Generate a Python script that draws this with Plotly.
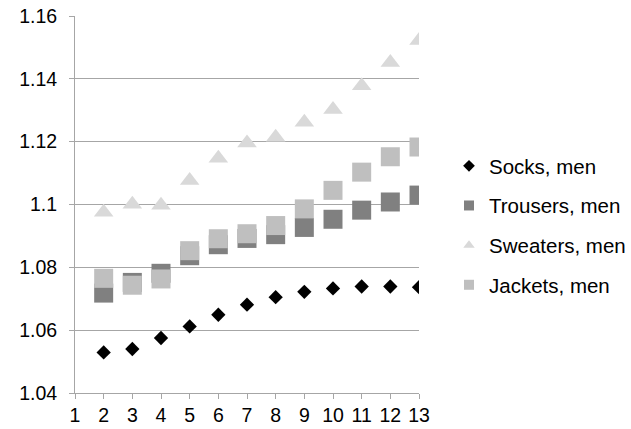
import plotly.graph_objects as go

periods = [2, 3, 4, 5, 6, 7, 8, 9, 10, 11, 12, 13]
socks = [1.0529, 1.0540, 1.0575, 1.0612, 1.0649, 1.0681, 1.0705, 1.0722, 1.0733, 1.0739, 1.0739, 1.0737]
trousers = [1.0718, 1.0752, 1.0781, 1.0837, 1.0872, 1.0892, 1.0904, 1.0927, 1.0953, 1.0982, 1.1008, 1.1030]
sweaters = [1.0975, 1.1001, 1.0998, 1.1076, 1.1147, 1.1196, 1.1214, 1.1262, 1.1302, 1.1378, 1.1452, 1.1522]
jackets = [1.0765, 1.0743, 1.0763, 1.0853, 1.0891, 1.0907, 1.0933, 1.0986, 1.1045, 1.1103, 1.1152, 1.1183]

x_ticks = list(range(1, 14))
y_ticks = [1.04, 1.06, 1.08, 1.10, 1.12, 1.14, 1.16]
y_tick_labels = ["1.04", "1.06", "1.08", "1.1", "1.12", "1.14", "1.16"]

series = [
    ("Socks, men", socks, "diamond", "#000000", 11, 9),
    ("Trousers, men", trousers, "square", "#808080", 19, 10),
    ("Sweaters, men", sweaters, "triangle-up", "#d9d9d9", 17, 10),
    ("Jackets, men", jackets, "square", "#bfbfbf", 19, 10),
]

fig = go.Figure()
order = [2, 1, 3, 0]
for i in order:
    name, vals, sym, col, size, _ = series[i]
    fig.add_trace(go.Scatter(x=periods, y=vals, mode="markers", name=name,
                             marker=dict(symbol=sym, color=col, size=size, line=dict(width=0)),
                             showlegend=False, hoverinfo="x+y"))
for k, (name, vals, sym, col, size, lsize) in enumerate(series):
    fig.add_trace(go.Scatter(x=[None], y=[None], mode="markers", name=name,
                             marker=dict(symbol=sym, color=col, size=lsize, line=dict(width=0)),
                             legendgroup="g%d" % k, showlegend=True))

W, H = 631, 429
axis_col = "#a6a6a6"
fig.update_layout(
    width=W, height=H,
    margin=dict(l=75, r=212, t=16, b=36),
    paper_bgcolor="white", plot_bgcolor="white",
    font=dict(family="Liberation Sans, Arial, sans-serif", color="#000000"),
    xaxis=dict(range=[1, 13], tickvals=x_ticks, ticktext=[str(v) for v in x_ticks],
               showgrid=False, zeroline=False, showline=True, linecolor=axis_col, linewidth=1,
               ticks="outside", ticklen=5, tickcolor=axis_col, tickfont=dict(size=19.5),
               ticklabeloverflow="allow", automargin=False, fixedrange=True),
    yaxis=dict(range=[1.04, 1.16], tickvals=y_ticks, ticktext=y_tick_labels,
               showgrid=True, gridcolor=axis_col, gridwidth=1, zeroline=False,
               showline=True, linecolor=axis_col, linewidth=1,
               ticks="outside", ticklen=5, tickcolor=axis_col, tickfont=dict(size=19.5),
               ticklabelstandoff=8, ticklabeloverflow="allow", automargin=False, fixedrange=True),
    legend=dict(xref="container", yref="container", x=449/W, y=1 - 146/H,
                xanchor="left", yanchor="top", font=dict(size=20.5),
                tracegroupgap=10, bgcolor="rgba(0,0,0,0)", itemclick=False),
    showlegend=True,
)

fig.write_html("out.html", config={"displayModeBar": False},
               post_script="document.body.style.margin='0';document.body.style.overflow='hidden';")
